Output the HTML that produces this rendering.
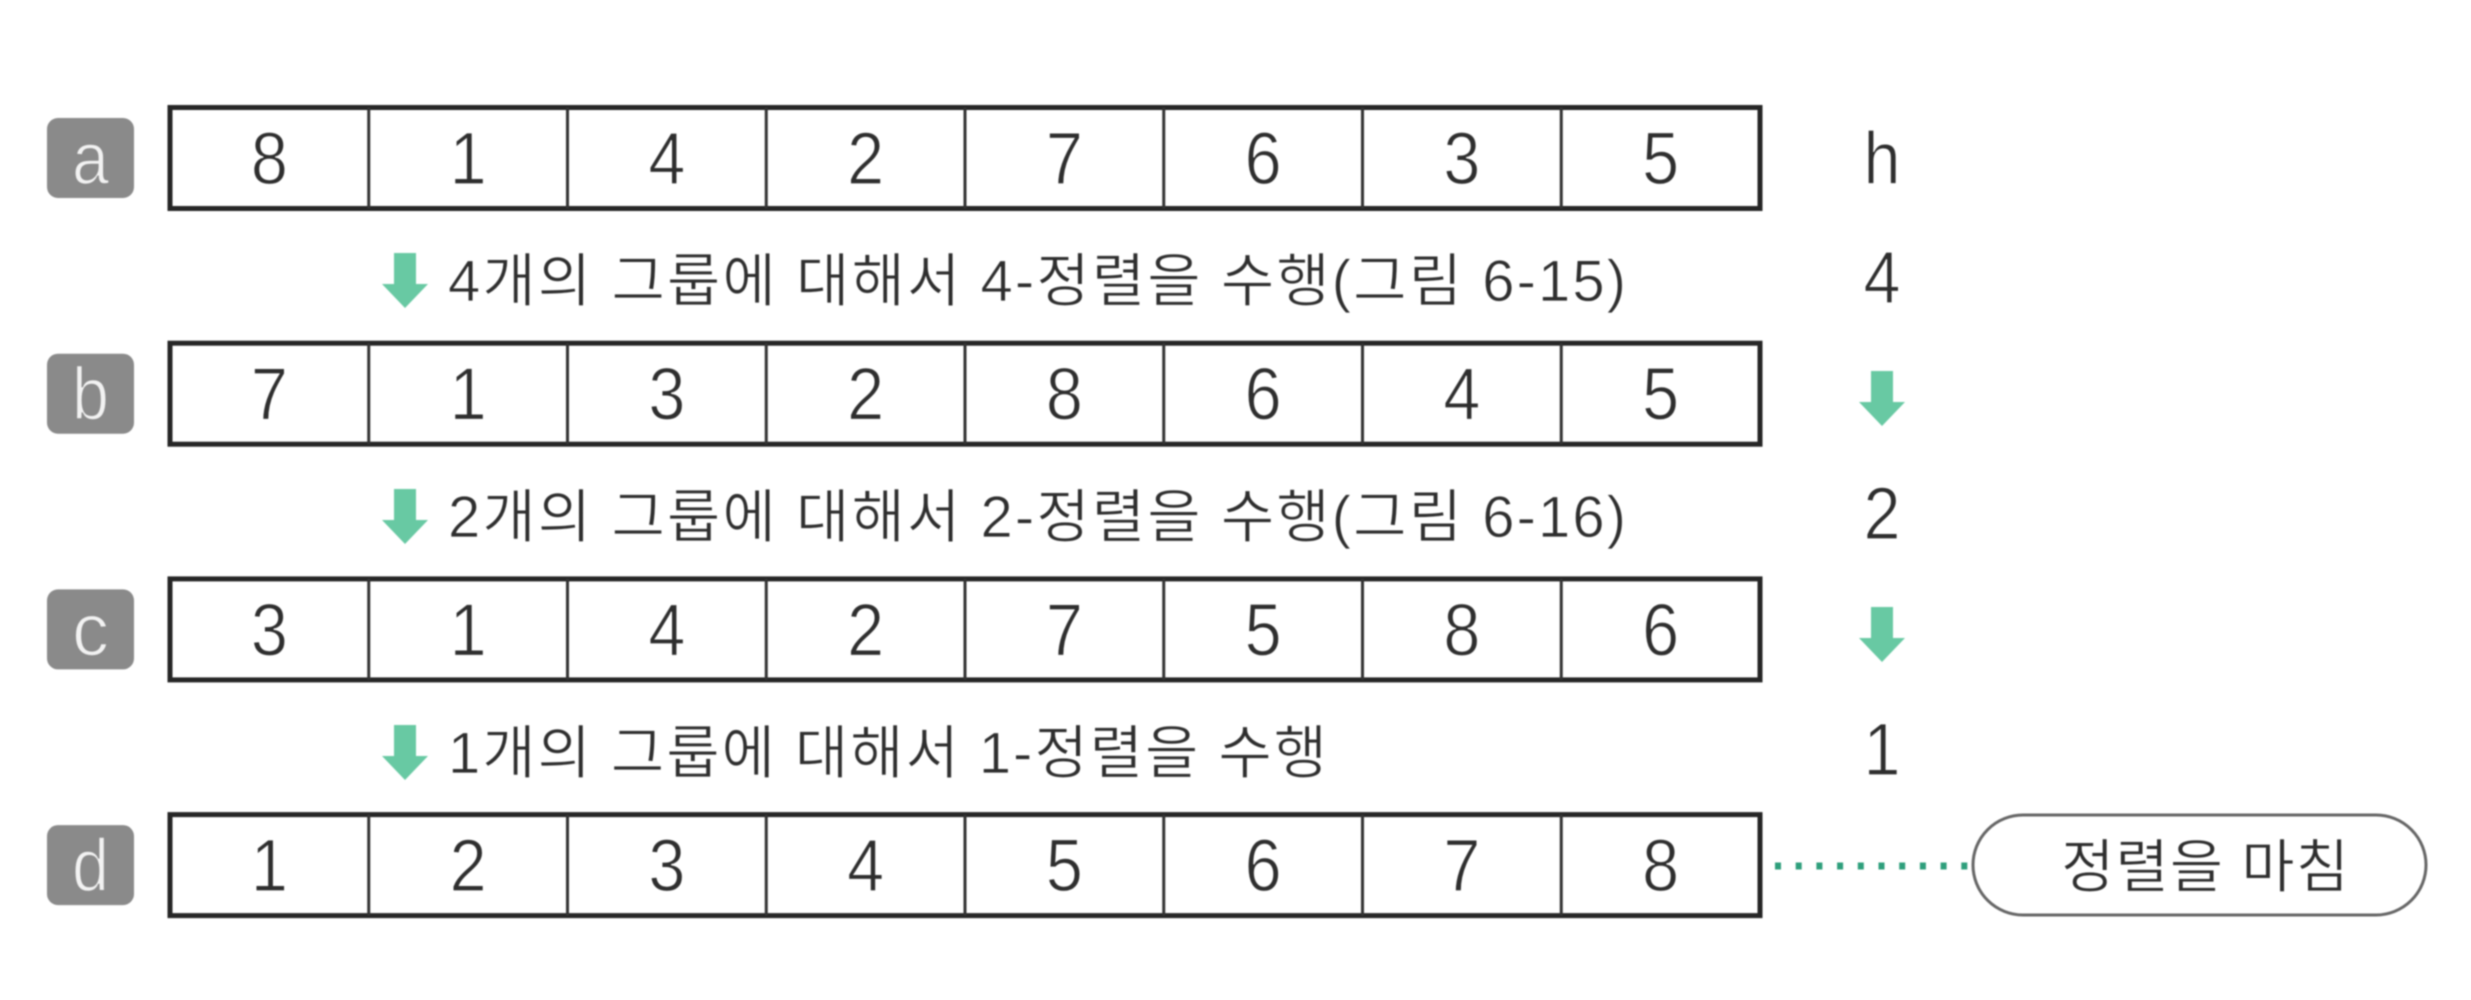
<!DOCTYPE html>
<html lang="ko">
<head>
<meta charset="utf-8">
<title>Shell sort diagram</title>
<style>
html,body{margin:0;padding:0;background:#fff;width:2471px;height:1000px;overflow:hidden}
svg{display:block;filter:blur(0.8px)}
text{font-family:"Liberation Sans","Noto Sans CJK KR",sans-serif}
</style>
</head>
<body>
<svg id="diagram" xmlns="http://www.w3.org/2000/svg" width="2471" height="1000" viewBox="0 0 2471 1000"></svg>
<script>
const rowLabels = ['a', 'b', 'c', 'd'];
const rowValues = [
  [8, 1, 4, 2, 7, 6, 3, 5],
  [7, 1, 3, 2, 8, 6, 4, 5],
  [3, 1, 4, 2, 7, 5, 8, 6],
  [1, 2, 3, 4, 5, 6, 7, 8]
];
const stepTexts = [
  '4개의 그룹에 대해서 4-정렬을 수행(그림 6-15)',
  '2개의 그룹에 대해서 2-정렬을 수행(그림 6-16)',
  '1개의 그룹에 대해서 1-정렬을 수행'
];
const gapHeader = 'h';
const gapValues = [4, 2, 1];
const endLabel = '정렬을 마침';

const svg = document.getElementById('diagram');
const NS = 'http://www.w3.org/2000/svg';
const boxLeft = 170, cellWidth = 198.75, boxHeight = 101;
const cellX = i => boxLeft + i * cellWidth;
const rowCenter = r => 158 + r * 235.7;
const stepCenter = s => 280 + s * 236;
const gapX = 1882;
const ink = '#2e2e2e';
const green = '#68c9a3';
const thin = {stroke: '#fff', 'stroke-width': 1.2};

function make(tag, attrs, text) {
  const el = document.createElementNS(NS, tag);
  for (const k in attrs) el.setAttribute(k, attrs[k]);
  if (text !== undefined) el.textContent = text;
  svg.appendChild(el);
  return el;
}
function arrowPoints(cx, top) {
  return [[cx-11,top],[cx+11,top],[cx+11,top+31],[cx+23,top+31],[cx,top+55],[cx-23,top+31],[cx-11,top+31]]
    .map(p => p.join(',')).join(' ');
}

rowValues.forEach((vals, r) => {
  const cy = rowCenter(r);
  const top = cy - boxHeight / 2;

  const badge = make('rect', {x: 47, y: cy - 40, width: 87, height: 80, rx: 11, fill: '#8a8a8a'});
  
  

  const badgeText = make('text', {x: 90.5, y: cy + 26, 'text-anchor': 'middle', 'font-size': 74, fill: '#f2f2f2', stroke: '#8a8a8a', 'stroke-width': 1.6, textLength: 37, lengthAdjust: 'spacingAndGlyphs'}, rowLabels[r]);
  
  

  const box = make('rect', {x: boxLeft, y: top, width: cellWidth * vals.length, height: boxHeight, fill: '#fff', stroke: '#262626', 'stroke-width': 5});
  
  

  vals.forEach((v, i) => {
    if (i > 0) {
      const div = make('line', {x1: cellX(i), x2: cellX(i), y1: top, y2: top + boxHeight, stroke: '#333', 'stroke-width': 3});
      
      
    }
    const t = make('text', {x: cellX(i) + cellWidth / 2, y: cy + 26, 'text-anchor': 'middle', 'font-size': 74, fill: ink, textLength: 37, lengthAdjust: 'spacingAndGlyphs', ...thin}, v);
    
    
  });
});

const stepWidths = [1178, 1178, 879];
stepTexts.forEach((s, i) => {
  const cy = stepCenter(i);

  const arrow = make('polygon', {points: arrowPoints(405, cy - 27), fill: green});
  
  

  const label = make('text', {x: 448, y: cy + 21, 'font-size': 58, fill: ink, textLength: stepWidths[i], stroke: '#fff', 'stroke-width': 0.8}, s);
  
  

  const gap = make('text', {x: gapX, y: cy + 23, 'text-anchor': 'middle', 'font-size': 74, fill: ink, textLength: 37, lengthAdjust: 'spacingAndGlyphs', ...thin}, gapValues[i]);
  
  

  if (i < gapValues.length - 1) {
    const down = make('polygon', {points: arrowPoints(gapX, cy + 91), fill: green});
    
    
  }
});

const header = make('text', {x: gapX, y: 184, 'text-anchor': 'middle', 'font-size': 74, fill: ink, textLength: 37, lengthAdjust: 'spacingAndGlyphs', ...thin}, gapHeader);



const dots = make('line', {x1: 1763, x2: 1973, y1: 866, y2: 866, stroke: '#2f9f7c', 'stroke-width': 7, 'stroke-dasharray': '6 14.7', 'stroke-dashoffset': 8.7});



const pill = make('rect', {x: 1973, y: 815, width: 453, height: 100, rx: 50, fill: '#fff', stroke: '#666', 'stroke-width': 3});



const pillText = make('text', {x: 2061, y: 887, 'font-size': 58, fill: ink, textLength: 288, stroke: '#fff', 'stroke-width': 0.8}, endLabel);


</script>
</body>
</html>
